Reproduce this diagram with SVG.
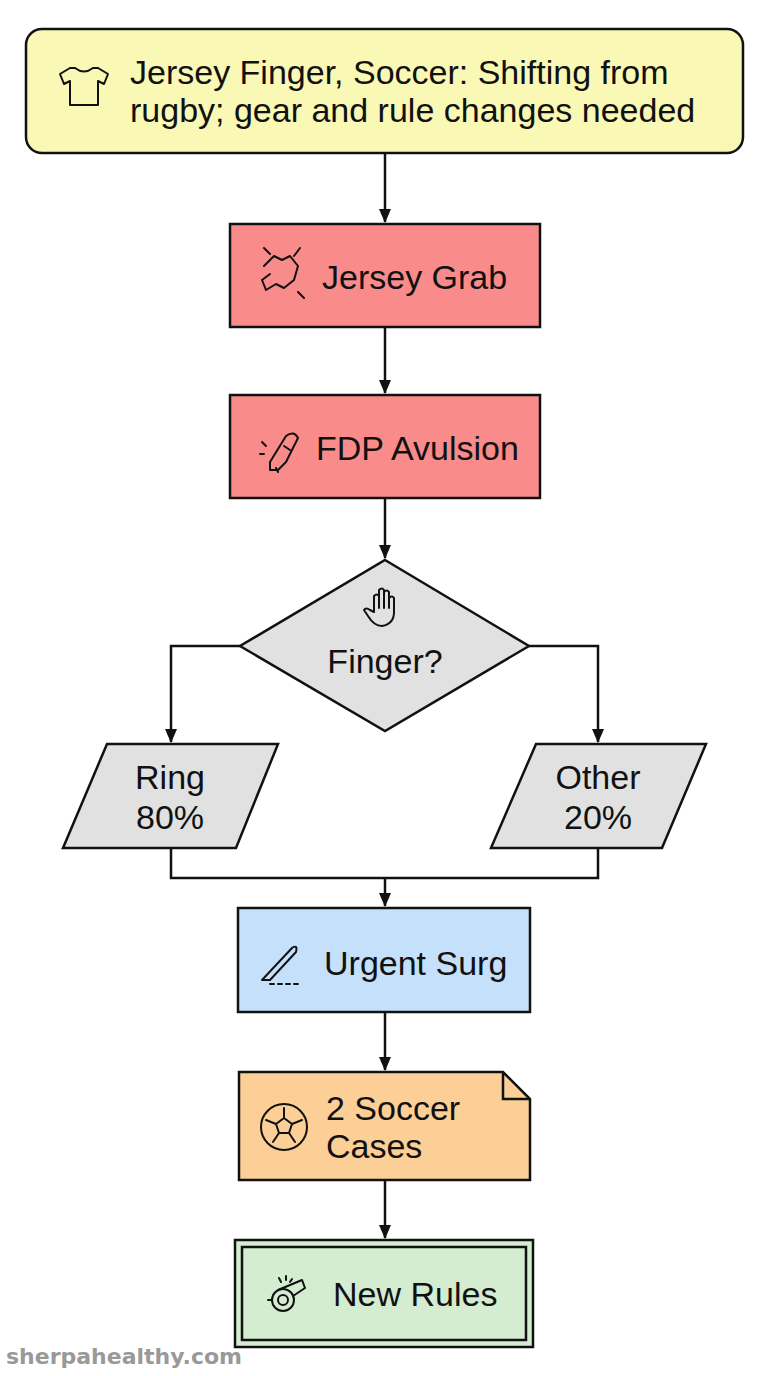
<svg xmlns="http://www.w3.org/2000/svg" width="768" height="1376" viewBox="0 0 768 1376">
<style>
.n{stroke:#111;stroke-width:2.5}
.t{font-family:"Liberation Sans",Arial,sans-serif;font-size:34px;fill:#111}
.ic{fill:none;stroke:#111;stroke-width:2;stroke-linecap:round;stroke-linejoin:round}
.c{fill:none;stroke:#111;stroke-width:2.5}
</style>
<defs><marker id="a" markerWidth="14" markerHeight="14" refX="13" refY="7" orient="auto" markerUnits="userSpaceOnUse"><path d="M0,1L14,7L0,13z" fill="#111"/></marker></defs>
<rect width="768" height="1376" fill="#fff"/>
<g id="connectors">
<path class="c" d="M385,153V222" marker-end="url(#a)"/>
<path class="c" d="M385,327V393" marker-end="url(#a)"/>
<path class="c" d="M385,498V558" marker-end="url(#a)"/>
<path class="c" d="M240,646H171V742" marker-end="url(#a)"/>
<path class="c" d="M529,646H598V742" marker-end="url(#a)"/>
<path class="c" d="M171,848V878H598V848"/>
<path class="c" d="M385,878V906" marker-end="url(#a)"/>
<path class="c" d="M385,1012V1070" marker-end="url(#a)"/>
<path class="c" d="M385,1180V1238" marker-end="url(#a)"/>
</g>
<g id="title">
<rect class="n" x="26" y="29" width="717" height="124" rx="16" fill="#f9f8b4"/>
<path class="ic" d="M60,74l10,-6h5q9,7 18,0h5l10,6l-4,10l-6,-3v24h-28v-24l-6,3z"/>
<text class="t" x="130" y="84">Jersey Finger, Soccer: Shifting from</text>
<text class="t" x="130" y="122">rugby; gear and rule changes needed</text>
</g>
<g id="grab">
<rect class="n" x="230" y="224" width="310" height="103" fill="#f98b8a"/>
<path class="ic" d="M264,266l10,-10l8,4l8,-4l8,10l-4,14l-10,8l-8,-4l-10,6l-4,-10l8,-6M270,254l-6,-6M298,292l6,6M294,256l6,-8"/>
<text class="t" x="322" y="289">Jersey Grab</text>
</g>
<g id="fdp">
<rect class="n" x="230" y="395" width="310" height="103" fill="#f98b8a"/>
<path class="ic" d="M270,462l16,-26q8,-6 12,2l-12,24l-8,8h-8zM284,446l6,4M262,442l4,4M260,454h4M276,468l2,4"/>
<text class="t" x="316" y="460">FDP Avulsion</text>
</g>
<g id="finger">
<path class="n" d="M385,560L529,646L385,731L240,646z" fill="#e1e1e1"/>
<path class="ic" d="M374,612v-16q3,-3 5,0v12v-18q3,-3 5,0v18v-16q3,-3 5,0v16v-10q3,-3 5,0v14q0,12 -12,14q-8,0 -14,-10l-4,-6q2,-3 6,0z"/>
<text class="t" x="385" y="673" text-anchor="middle">Finger?</text>
</g>
<g id="ring">
<path class="n" d="M107,744H278L236,848H63z" fill="#e1e1e1"/>
<text class="t" x="170" y="789" text-anchor="middle">Ring</text>
<text class="t" x="170" y="829" text-anchor="middle">80%</text>
</g>
<g id="other">
<path class="n" d="M536,744H706L662,848H491z" fill="#e1e1e1"/>
<text class="t" x="598" y="789" text-anchor="middle">Other</text>
<text class="t" x="598" y="829" text-anchor="middle">20%</text>
</g>
<g id="surg">
<rect class="n" x="238" y="908" width="292" height="104" fill="#c5e0fa"/>
<path class="ic" d="M262,980l30,-32q6,-4 4,4l-26,28zM270,984h4M278,984h4M286,984h4M294,984h4"/>
<text class="t" x="324" y="975">Urgent Surg</text>
</g>
<g id="soccer">
<path class="n" d="M239,1072H503L530,1099V1180H239z" fill="#fbcf96"/>
<path class="n" d="M503,1072V1099H530" fill="none"/>
<circle class="ic" cx="284" cy="1127" r="23"/>
<path class="ic" d="M284,1118l8,6l-3,9h-10l-3,-9zM284,1118v-10M292,1124l10,-4M289,1133l6,9M279,1133l-6,9M276,1124l-10,-4"/>
<text class="t" x="326" y="1120">2 Soccer</text>
<text class="t" x="326" y="1158">Cases</text>
</g>
<g id="rules">
<rect class="n" x="235" y="1240" width="298" height="107" fill="#d4ecd0"/>
<rect class="n" x="242" y="1247" width="284" height="93" fill="none"/>
<circle class="ic" cx="283" cy="1300" r="11"/>
<circle class="ic" cx="283" cy="1300" r="5"/>
<path class="ic" d="M278,1290l24,-10l3,8l-12,8M268,1300h4M281,1282l-2,-4M286,1280v-4M290,1282l2,-3"/>
<text class="t" x="333" y="1306">New Rules</text>
</g>
<text x="6" y="1364" font-family="'DejaVu Sans',sans-serif" font-weight="bold" font-size="22" fill="#999">sherpahealthy.com</text>
</svg>
